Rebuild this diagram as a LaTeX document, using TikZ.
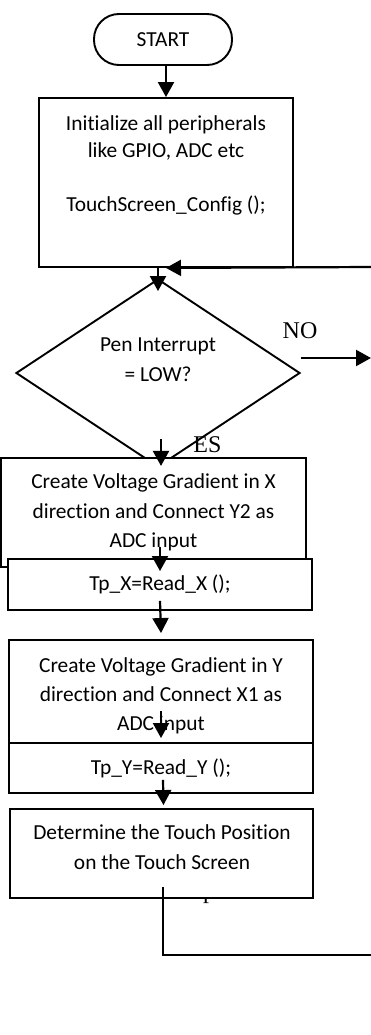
\documentclass[tikz,border=0pt]{standalone}
\usepackage{fontspec}
\setmainfont[Ligatures=NoCommon]{Carlito}
\newfontfamily\serifl{Liberation Serif}
\usetikzlibrary{arrows.meta,shapes.geometric}
\begin{document}
\begin{tikzpicture}[x=1pt,y=-1pt,
  body/.style={font=\fontsize{21.4}{29.5}\selectfont},
  box/.style={draw,line width=1.9pt,fill=white,rectangle,inner sep=0pt,align=center,body},
  term/.style={box,rounded corners=25pt},
  decision/.style={draw,line width=1.9pt,fill=white,diamond,inner sep=0pt,shape aspect=1.51},
  txt/.style={inner sep=0pt,align=center,body},
  flow/.style={line width=2.2pt,-{Triangle[length=15pt,width=16pt]}},
  plain/.style={line width=2pt},
  lbl/.style={inner sep=0pt,font=\serifl\fontsize{24}{24}\selectfont}
]
\useasboundingbox[fill=white] (0,0) rectangle (371,1035);

% start terminal and initialisation block
\node[term,minimum width=138pt,minimum height=51pt] (start) at (163,39.5) {START};
\node[box,minimum width=254pt,minimum height=169pt] (init) at (166,182.5) {};
\node[txt,font=\fontsize{21.4}{27}\selectfont] (initT) at (166,165)
  {Initialize all peripherals\\like GPIO, ADC etc\\[27pt]TouchScreen\_Config ();};

% pen interrupt decision
\node[decision,minimum width=284pt,minimum height=188pt] (dia) at (158,373) {};
\node[txt,font=\fontsize{21.4}{30}\selectfont] (diaT) at (158,359.5) {Pen Interrupt\\= LOW?};

% X measurement
\node[box,minimum width=305pt,minimum height=109pt] (boxX) at (153.5,512.5)
  {Create Voltage Gradient in X\\direction and Connect Y2 as\\ADC input};
\node[box,minimum width=304pt,minimum height=51pt] (TpX) at (160,584.5) {Tp\_X=Read\_X ();};

% Y measurement
\node[box,minimum width=304pt,minimum height=103pt] (boxY) at (161,691.5) {};
\node[txt,font=\fontsize{21.4}{29}\selectfont] (boxYT) at (161,695.5)
  {Create Voltage Gradient in Y\\direction and Connect X1 as\\ADC input};
\node[box,minimum width=304pt,minimum height=50pt] (TpY) at (161,768) {Tp\_Y=Read\_Y ();};

% touch position
\node[lbl,anchor=base west] (pfrag) at (203,898.5) {p};
\node[box,minimum width=303pt,minimum height=89pt] (det) at (161.5,853.5) {};
\node[txt,font=\fontsize{21.4}{30}\selectfont] (detT) at (162,847.5)
  {Determine the Touch Position\\on the Touch Screen};

% branch labels
\node[lbl] (no) at (300,331) {NO};
\node[lbl] (yes) at (207.5,445) {ES};

% loose ends at the right margin
\coordinate (backin) at (371,267);
\coordinate (noout) at (371,358);
\coordinate (retout) at (371,955);

% connectors
\draw[flow] (init.north |- start.south) -- (init.north);
\draw[flow] (backin) -- (init.south);
\draw[flow] (dia.north |- init.south) -- ([yshift=-13pt]dia.north);
\draw[flow] ([yshift=15pt]dia.east) -- (noout);
\draw[flow] ([xshift=3pt,yshift=29pt]dia.south) -- ([xshift=3pt,yshift=2pt]dia.south);
\draw[flow] ([yshift=11pt]TpX.north) -- ([yshift=-13pt]TpX.north);
\draw[flow] ([yshift=10pt]TpX.south) -- ([yshift=6pt]boxY.north);
\draw[flow] ([yshift=31pt]TpY.north) -- ([yshift=4pt]TpY.north);
\draw[flow] ([xshift=2pt,yshift=14pt]TpY.south) -- ([xshift=2pt,yshift=3pt]det.north);
\draw[plain] ([xshift=1.5pt,yshift=12pt]det.south) |- (retout);
\end{tikzpicture}
\end{document}
